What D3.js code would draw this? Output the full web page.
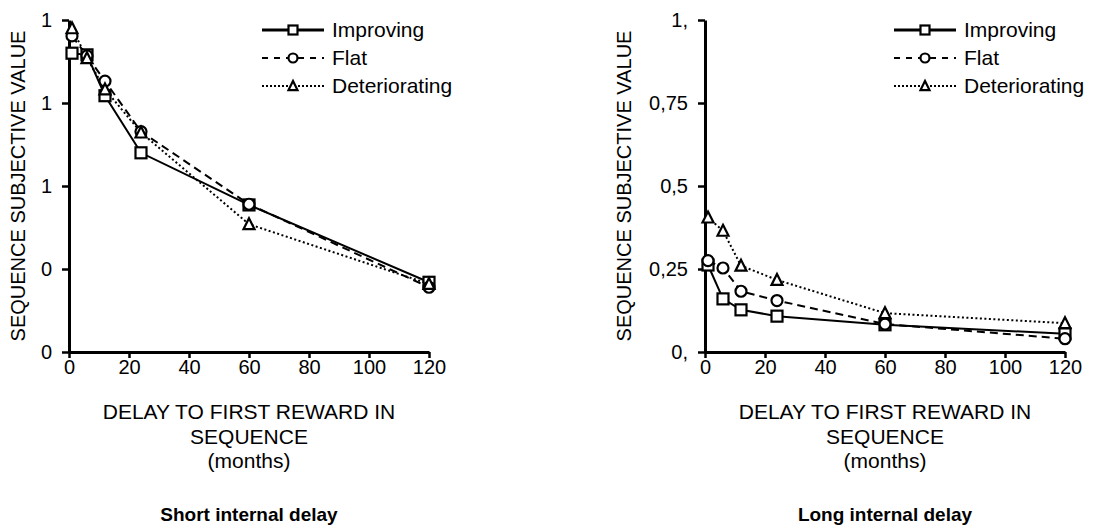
<!DOCTYPE html>
<html>
<head>
<meta charset="utf-8">
<script src="https://cdn.jsdelivr.net/npm/d3@7"></script>
<style>
  body { margin: 0; background: #fff; }
  text { font-family: Arial, "Liberation Sans", sans-serif; fill: #000; }
</style>
</head>
<body>
<div id="chart"></div>
<script>
const width = 1111
const height = 525

// delays to first reward (months)
const delays = [1, 6, 12, 24, 60, 120]
const xTicks = [0, 20, 40, 60, 80, 100, 120]
const yTicks = [0, 0.25, 0.5, 0.75, 1]

// short internal delay
const shortImproving = [0.90, 0.895, 0.772, 0.60, 0.443, 0.21]
const shortFlat = [0.952, 0.892, 0.816, 0.664, 0.445, 0.195]
const shortDeteriorating = [0.975, 0.885, 0.791, 0.661, 0.385, 0.205]
const shortTickLabels = ['0', '0', '1', '1', '1']

// long internal delay
const longImproving = [0.262, 0.16, 0.127, 0.108, 0.082, 0.055]
const longFlat = [0.275, 0.253, 0.183, 0.155, 0.084, 0.04]
const longDeteriorating = [0.405, 0.365, 0.26, 0.217, 0.117, 0.087]
const longTickLabels = ['0,', '0,25', '0,5', '0,75', '1,']

const seriesNames = ['Improving', 'Flat', 'Deteriorating']
const seriesShapes = ['square', 'circle', 'triangle']
const seriesDash = [null, '8,5', '2,2.5']

const fontSize = 20

const svg = d3.select('#chart').append('svg').attr('width', width).attr('height', height)

function marker(g, shape, cx, cy, size) {
  if (shape === 'square') {
    g.append('rect')
      .attr('x', cx - size / 2).attr('y', cy - size / 2)
      .attr('width', size).attr('height', size)
      .attr('fill', '#fff').attr('stroke', '#000').attr('stroke-width', 2.2)
  } else if (shape === 'circle') {
    g.append('circle')
      .attr('cx', cx).attr('cy', cy).attr('r', size / 2)
      .attr('fill', '#fff').attr('stroke', '#000').attr('stroke-width', 2.2)
  } else {
    const h = size * 0.9
    g.append('path')
      .attr('d', `M${cx},${cy - h / 2 - 1}L${cx + size / 2},${cy + h / 2}L${cx - size / 2},${cy + h / 2}Z`)
      .attr('fill', '#fff').attr('stroke', '#000').attr('stroke-width', 2.2)
  }
}

function drawPanel(opts) {
  const x = d3.scaleLinear().domain([0, 120]).range([opts.left, opts.left + 360])
  const y = d3.scaleLinear().domain([0, 1]).range([352, 20])

  const g = svg.append('g')

  const xAxis = d3.axisBottom(x).tickValues(xTicks).tickSize(6).tickSizeOuter(0).tickPadding(2)
  const yAxis = d3.axisLeft(y).tickValues(yTicks).tickSize(7).tickSizeOuter(0).tickPadding(10)
    .tickFormat((d, i) => opts.tickLabels[i])

  const xg = g.append('g').attr('transform', `translate(0, ${y(0)})`).call(xAxis)
  const yg = g.append('g').attr('transform', `translate(${x(0)}, 0)`).call(yAxis)

  ;[xg, yg].forEach(a => {
    a.select('.domain').attr('stroke-width', 3).attr('stroke', '#000')
    a.selectAll('.tick line').attr('stroke-width', 2.5).attr('stroke', '#000')
    a.selectAll('.tick text').attr('font-size', fontSize).attr('fill', '#000')
      .attr('font-family', 'Arial, "Liberation Sans", sans-serif')
  })

  // series lines
  const line = d3.line().x((d, i) => x(delays[i])).y(d => y(d))
  opts.series.forEach((vals, s) => {
    g.append('path')
      .datum(vals)
      .attr('d', line)
      .attr('fill', 'none')
      .attr('stroke', '#000')
      .attr('stroke-width', 2)
      .attr('stroke-dasharray', seriesDash[s])
  })
  opts.series.forEach((vals, s) => {
    vals.forEach((v, i) => marker(g, seriesShapes[s], x(delays[i]), y(v), 11))
  })

  // legend
  const lx = opts.legendX
  seriesNames.forEach((name, s) => {
    const ly = 30 + s * 28
    g.append('line')
      .attr('x1', lx).attr('x2', lx + 62).attr('y1', ly).attr('y2', ly)
      .attr('stroke', '#000').attr('stroke-width', s === 0 ? 3 : 2)
      .attr('stroke-dasharray', s === 1 ? '6,6' : (s === 2 ? '2,2' : null))
    marker(g, seriesShapes[s], lx + 31, ly, 9)
    g.append('text').attr('x', lx + 70).attr('y', ly + 7).attr('font-size', 21).text(name)
  })

  // axis titles
  const cx = x(60)
  g.append('text')
    .attr('transform', `translate(${opts.yTitleX}, ${y(0.5)}) rotate(-90)`)
    .attr('text-anchor', 'middle').attr('font-size', fontSize)
    .text('SEQUENCE SUBJECTIVE VALUE')
  const xt = g.append('text').attr('text-anchor', 'middle').attr('font-size', 21)
  ;['DELAY TO FIRST REWARD IN', 'SEQUENCE', '(months)'].forEach((t, i) => {
    xt.append('tspan').attr('x', cx).attr('y', 419 + i * 24.5).text(t)
  })
  g.append('text')
    .attr('x', cx).attr('y', 521)
    .attr('text-anchor', 'middle').attr('font-size', 19).attr('font-weight', 'bold')
    .text(opts.title)
}

drawPanel({
  left: 69,
  series: [shortImproving, shortFlat, shortDeteriorating],
  tickLabels: shortTickLabels,
  legendX: 262,
  yTitleX: 25,
  title: 'Short internal delay'
})

drawPanel({
  left: 705,
  series: [longImproving, longFlat, longDeteriorating],
  tickLabels: longTickLabels,
  legendX: 894,
  yTitleX: 631,
  title: 'Long internal delay'
})
</script>
</body>
</html>
